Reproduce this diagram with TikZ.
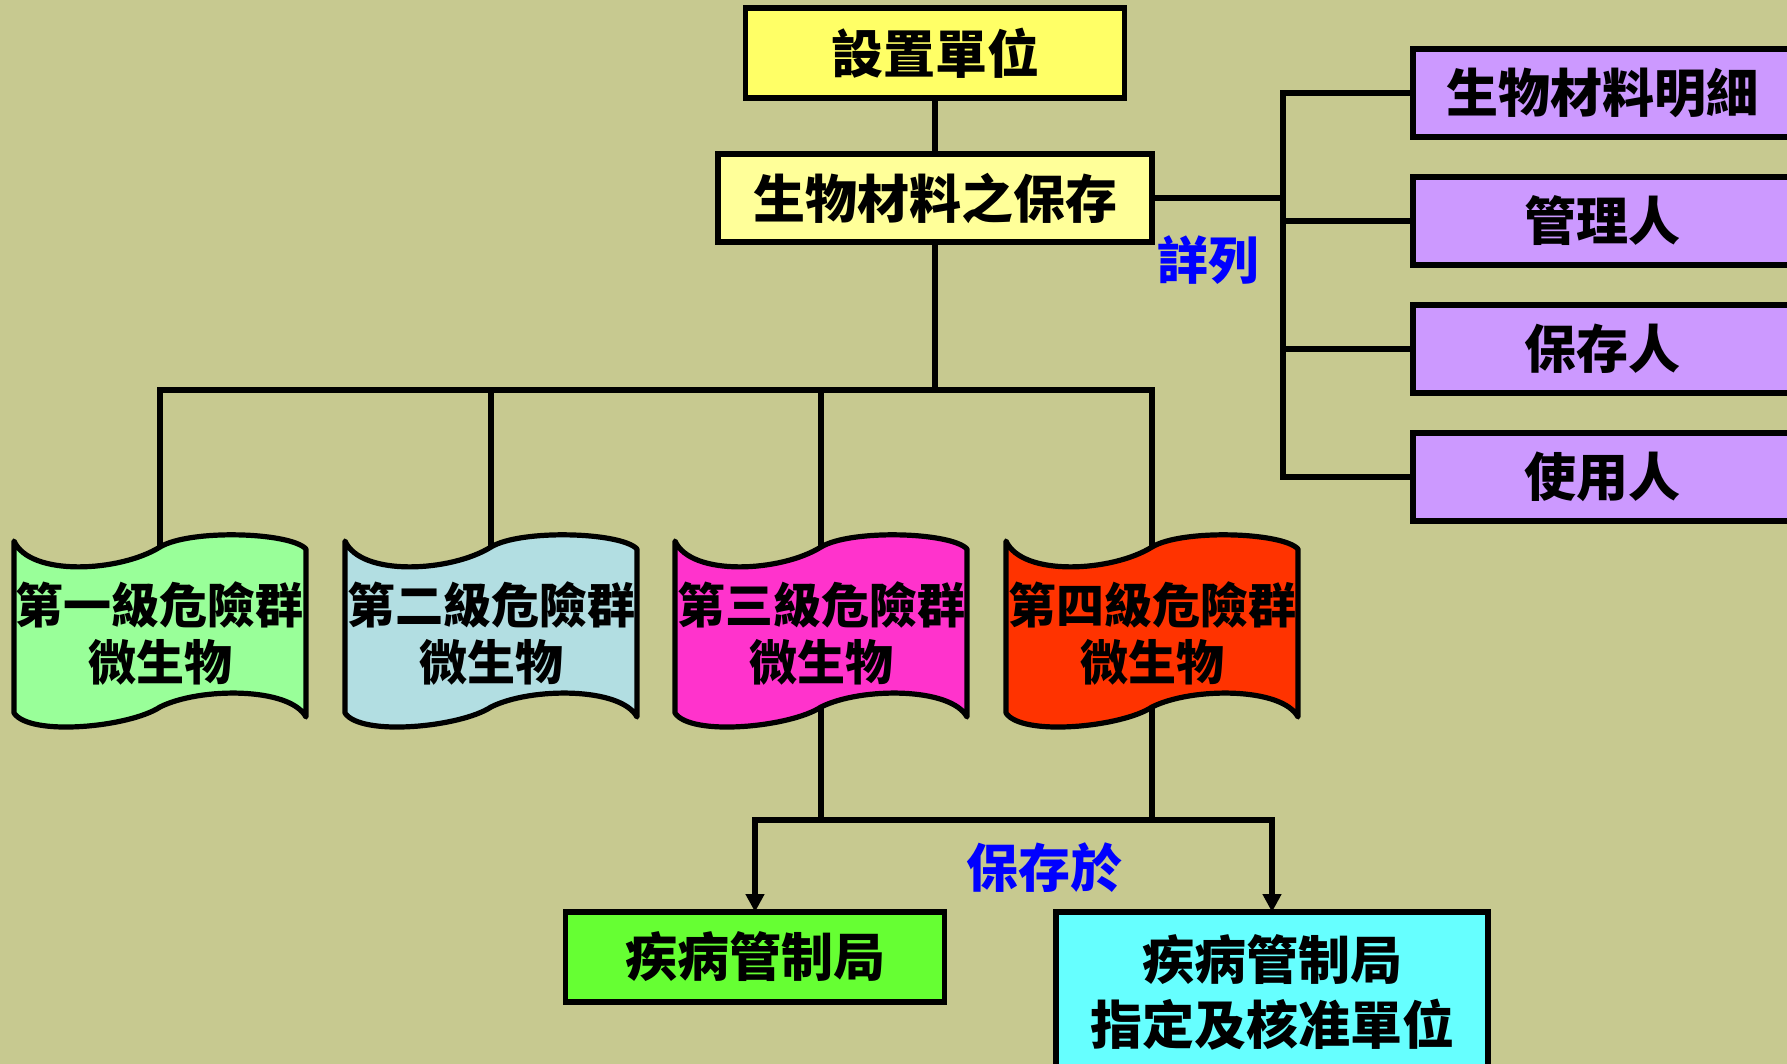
\documentclass[tikz,border=0pt]{standalone}
\usepackage{fontspec}
\setmainfont{Noto Sans CJK TC}
\usetikzlibrary{arrows.meta}
\definecolor{bgc}{RGB}{199,201,144}
\definecolor{yel}{RGB}{255,255,102}
\definecolor{lyel}{RGB}{255,255,153}
\definecolor{purp}{RGB}{204,153,255}
\definecolor{dgreen}{RGB}{153,255,153}
\definecolor{dblue}{RGB}{178,222,226}
\definecolor{dpink}{RGB}{255,51,204}
\definecolor{dred}{RGB}{255,51,0}
\definecolor{bgreen}{RGB}{102,255,51}
\definecolor{bcyan}{RGB}{102,255,255}
\definecolor{lblue}{RGB}{0,0,255}
\pgfdeclarelayer{bgl}
\pgfdeclarelayer{conn}
\pgfdeclarelayer{shp}
\pgfsetlayers{bgl,conn,shp,main}
\newcommand\wavedoc[2]{%
  \begin{pgfonlayer}{shp}
  \begin{scope}[shift={([yshift=3.5pt]#1.center)}]
  \filldraw[fill=#2, draw=black, line width=2.6pt, line join=round]
    (-146,-86) .. controls (-130,-50) and (-40,-55) .. (0,-80)
    .. controls (30,-98) and (130,-95) .. (146,-78) -- (146,90)
    .. controls (130,60) and (40,60) .. (0,80)
    .. controls (-30,100) and (-130,110) .. (-146,86) -- cycle;
  \end{scope}
  \end{pgfonlayer}}
\begin{document}
\begin{tikzpicture}[x=0.5pt,y=-0.5pt,
  box/.style={draw=black, line width=2.6pt, inner sep=0pt, outer sep=0pt,
    font=\bfseries\fontsize{26}{31}\selectfont, align=center},
  docnode/.style={inner sep=0pt, outer sep=0pt, minimum width=146pt, minimum height=73pt,
    font=\bfseries\fontsize{24}{28.5}\selectfont, align=center},
  lbl/.style={text=lblue, font=\bfseries\fontsize{25.5}{30}\selectfont, inner sep=0pt},
  conn/.style={draw=black, line width=2.8pt},
  tri/.style={conn, -{Triangle[length=9pt,width=9pt]}}]
\useasboundingbox (0,0) rectangle (1787,1064);
\clip (0,0) rectangle (1787,1064);
\begin{pgfonlayer}{bgl}
\fill[bgc] (0,0) rectangle (1787,1064);
\end{pgfonlayer}

% top boxes
\node[box, fill=yel, minimum width=189.5pt, minimum height=45pt] (unit) at (935,53) {設置單位};
\node[box, fill=lyel, minimum width=217pt, minimum height=44pt] (keep) at (935,198) {生物材料之保存};

% purple boxes
\node[box, fill=purp, minimum width=189pt, minimum height=44pt] (p1) at (1602,93) {生物材料明細};
\node[box, fill=purp, minimum width=189pt, minimum height=44pt] (p2) at (1602,221) {管理人};
\node[box, fill=purp, minimum width=189pt, minimum height=44pt] (p3) at (1602,349) {保存人};
\node[box, fill=purp, minimum width=189pt, minimum height=44pt] (p4) at (1602,477) {使用人};

% document shapes
\node[docnode] (d1) at (160,634) {第一級危險群\\微生物};
\node[docnode] (d2) at (491,634) {第二級危險群\\微生物};
\node[docnode] (d3) at (821,634) {第三級危險群\\微生物};
\node[docnode] (d4) at (1152,634) {第四級危險群\\微生物};
\wavedoc{d1}{dgreen}
\wavedoc{d2}{dblue}
\wavedoc{d3}{dpink}
\wavedoc{d4}{dred}

% bottom boxes
\node[box, fill=bgreen, minimum width=189.5pt, minimum height=45pt] (cdc) at (755,957) {疾病管制局};
\node[box, fill=bcyan, minimum width=216pt, minimum height=80pt, anchor=north,
  font=\bfseries\fontsize{26}{32.5}\selectfont] (auth) at (1272,912) {疾病管制局\\指定及核准單位};

% labels
\node[lbl] (l1) at (1208,260) {詳列};
\node[lbl, font=\bfseries\fontsize{26}{30}\selectfont] (l2) at (1044,868) {保存於};

% connectors
\coordinate (busL) at (160,390);
\coordinate (rx) at (1283,0);
\coordinate (jn) at (0,820);
\begin{pgfonlayer}{conn}
\draw[conn] (unit.south) -- (keep.north);
\draw[conn] (keep.south) -- (keep.south |- busL);
\draw[conn] (d1.north) -- (d1.north |- busL) -- (d4.north |- busL) -- (d4.north);
\draw[conn] (d2.north) -- (d2.north |- busL);
\draw[conn] (d3.north) -- (d3.north |- busL);
\draw[conn] (keep.east) -- (keep.east -| rx);
\draw[conn] (p1.west) -- (p1.west -| rx) -- (p4.west -| rx) -- (p4.west);
\draw[conn] (p2.west) -- (p2.west -| rx);
\draw[conn] (p3.west) -- (p3.west -| rx);
\draw[conn] (d3.south) -- (d3.south |- jn);
\draw[conn] (d4.south) -- (d4.south |- jn);
\draw[tri] (d3.south |- jn) -| (cdc.north);
\draw[tri] (d3.south |- jn) -| (auth.north);
\end{pgfonlayer}
\end{tikzpicture}
\end{document}
